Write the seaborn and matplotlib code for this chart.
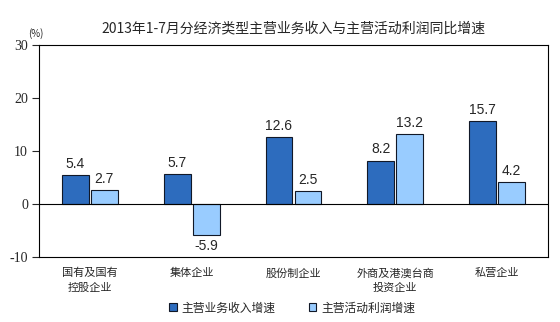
import matplotlib
matplotlib.use("Agg")
import matplotlib.pyplot as plt
import seaborn as sns
import pandas as pd
from matplotlib.patches import Patch

categories = ["国有及国有\n控股企业", "集体企业", "股份制企业", "外商及港澳台商\n投资企业", "私营企业"]
series_names = ["主营业务收入增速", "主营活动利润增速"]
revenue = [5.4, 5.7, 12.6, 8.2, 15.7]
profit = [2.7, -5.9, 2.5, 13.2, 4.2]
yticks = [-10, 0, 10, 20, 30]
colors = ["#2D6CBE", "#99CCFF"]
edge = "#111827"

sns.set_style("white")
plt.rcParams['font.family'] = ['Noto Sans CJK SC', 'DejaVu Sans']

df = pd.DataFrame({
    "cat": categories * 2,
    "series": [series_names[0]] * 5 + [series_names[1]] * 5,
    "val": revenue + profit,
})

fig = plt.figure(figsize=(5.6, 3.22), dpi=100)
ax = fig.add_axes([39/560, 1 - 257/322, 509/560, 212/322])
sns.barplot(data=df, x="cat", y="val", hue="series", palette=colors,
            saturation=1, edgecolor=edge, linewidth=0.8, width=0.57, gap=0.07,
            ax=ax, legend=False)

ax.set_ylim(-10, 30)
ax.set_xlim(-0.5, 4.5)
ax.set_yticks(yticks)
ax.set_yticklabels([str(t) for t in yticks], family="Liberation Serif", fontsize=10)
ax.tick_params(axis='y', direction='out', length=5, width=0.8, left=True, pad=3)
ax.tick_params(axis='x', length=0, pad=8)
for lbl in ax.get_xticklabels():
    lbl.set_fontsize(8)
    lbl.set_linespacing(1.55)
ax.set_xlabel("")
ax.set_ylabel("")
for s in ax.spines.values():
    s.set_color("black")
    s.set_linewidth(0.8)
ax.axhline(0, color="black", linewidth=0.8)

for cont in ax.containers:
    labels = [f"{v:.1f}" for v in cont.datavalues]
    ax.bar_label(cont, labels=labels, padding=3, fontsize=10, family="Liberation Sans")

fig.text(293/560, 1 - 28/322, "2013年1-7月分经济类型主营业务收入与主营活动利润同比增速",
         ha="center", va="center", fontsize=10)
fig.text(36/560, 1 - 34/322, "(%)", ha="center", va="center", fontsize=7)

handles = [Patch(facecolor=c, edgecolor=edge, linewidth=0.8) for c in colors]
fig.legend(handles, series_names, loc="center", bbox_to_anchor=(292/560, 1 - 308/322),
           ncol=2, frameon=False, fontsize=8.5, handlelength=0.65, handleheight=0.65,
           columnspacing=2.8, handletextpad=0.4, borderpad=0)

fig.savefig("out.png", dpi=100)
